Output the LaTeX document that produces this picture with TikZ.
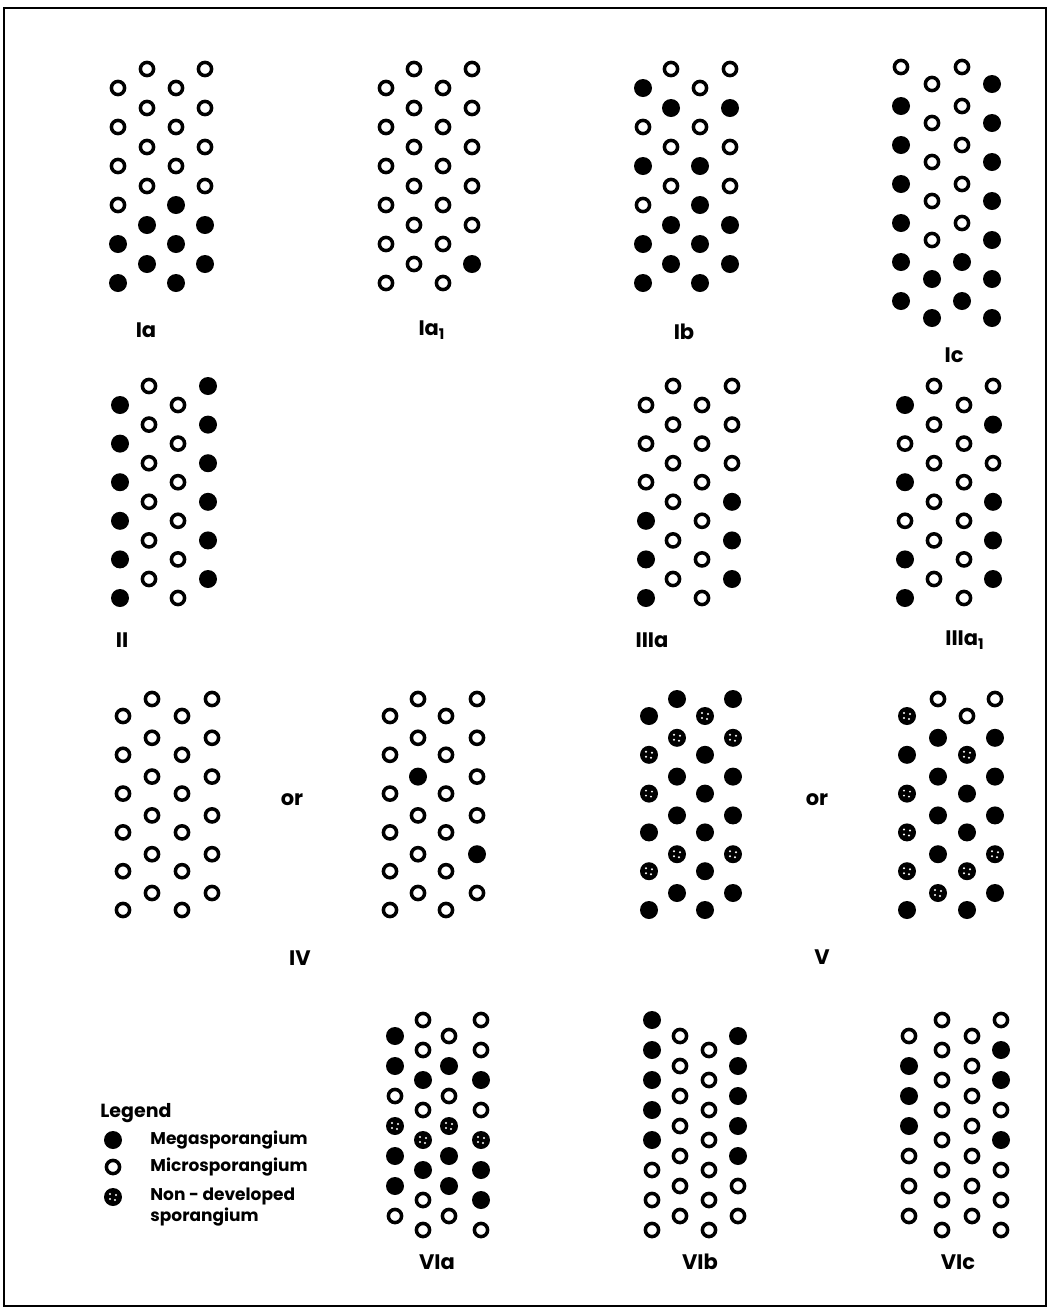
\documentclass[tikz,border=0pt]{standalone}
\usepackage{fontspec}
\setmainfont{Poppins}
\usetikzlibrary{positioning}

% one column of sporangia: x, first y, spacing, codes (0 micro, 1 mega, 2 non-developed)
\newcommand\sporcol[4]{%
  \foreach \t [count=\i from 0] in {#4}{%
    \ifcase\t\relax
      \draw[micro] (#1,#2+\i*#3) circle (6.6);
    \or
      \fill[mega] (#1,#2+\i*#3) circle (9);
    \or
      \fill[mega] (#1,#2+\i*#3) circle (9);
      \foreach \sx/\sy in {-3/-3,3/-2,2/3,-3/2}
        \fill[speck] (#1+\sx,#2+\i*#3+\sy) circle (1.1);
    \fi}}

\begin{document}
\begin{tikzpicture}[
  x=0.5pt, y=-0.5pt,
  micro/.style={draw=black, line width=1.75pt, fill=white},
  mega/.style={fill=black},
  speck/.style={fill=white},
  frame/.style={draw=black, line width=1pt},
  lab/.style={font=\fontsize{10.5}{12}\selectfont\bfseries, inner sep=1pt},
  legtxt/.style={font=\fontsize{8.5}{10.5}\selectfont\bfseries, anchor=west, align=left, inner sep=1pt}
]
\useasboundingbox (0,0) rectangle (1057,1314);
\draw[frame] (4,8) rectangle (1046,1306);

% row I
\sporcol{118}{88}{39}{0,0,0,0,1,1}
\sporcol{147}{69}{39}{0,0,0,0,1,1}
\sporcol{176}{88}{39}{0,0,0,1,1,1}
\sporcol{205}{69}{39}{0,0,0,0,1,1}
\node[lab] (labIa) at (146,330) {Ia};

\sporcol{386}{88}{39}{0,0,0,0,0,0}
\sporcol{414}{69}{39}{0,0,0,0,0,0}
\sporcol{443}{88}{39}{0,0,0,0,0,0}
\sporcol{472}{69}{39}{0,0,0,0,0,1}
\node[lab] (labIaone) at (432,330) {Ia\textsubscript{1}};

\sporcol{643}{88}{39}{1,0,1,0,1,1}
\sporcol{671}{69}{39}{0,1,0,0,1,1}
\sporcol{700}{88}{39}{0,0,1,1,1,1}
\sporcol{730}{69}{39}{0,1,0,0,1,1}
\node[lab] (labIb) at (684,332) {Ib};

\sporcol{901}{67}{39}{0,1,1,1,1,1,1}
\sporcol{932}{84}{39}{0,0,0,0,0,1,1}
\sporcol{962}{67}{39}{0,0,0,0,0,1,1}
\sporcol{992}{84}{39}{1,1,1,1,1,1,1}
\node[lab] (labIc) at (954,355) {Ic};

% row II, III
\sporcol{120}{405}{38.6}{1,1,1,1,1,1}
\sporcol{149}{386}{38.6}{0,0,0,0,0,0}
\sporcol{178}{405}{38.6}{0,0,0,0,0,0}
\sporcol{208}{386}{38.6}{1,1,1,1,1,1}
\node[lab] (labII) at (122,640) {II};

\sporcol{646}{405}{38.6}{0,0,0,1,1,1}
\sporcol{673}{386}{38.6}{0,0,0,0,0,0}
\sporcol{702}{405}{38.6}{0,0,0,0,0,0}
\sporcol{732}{386}{38.6}{0,0,0,1,1,1}
\node[lab] (labIIIa) at (652,640) {IIIa};

\sporcol{905}{405}{38.6}{1,0,1,0,1,1}
\sporcol{934}{386}{38.6}{0,0,0,0,0,0}
\sporcol{964}{405}{38.6}{0,0,0,0,0,0}
\sporcol{993}{386}{38.6}{0,1,0,1,1,1}
\node[lab] (labIIIaone) at (965,640) {IIIa\textsubscript{1}};

% row IV, V
\sporcol{123}{716}{38.8}{0,0,0,0,0,0}
\sporcol{152}{699}{38.8}{0,0,0,0,0,0}
\sporcol{182}{716}{38.8}{0,0,0,0,0,0}
\sporcol{212}{699}{38.8}{0,0,0,0,0,0}
\node[lab] (orIV) at (292,800) {or};

\sporcol{390}{716}{38.8}{0,0,0,0,0,0}
\sporcol{418}{699}{38.8}{0,0,1,0,0,0}
\sporcol{446}{716}{38.8}{0,0,0,0,0,0}
\sporcol{477}{699}{38.8}{0,0,0,0,1,0}
\node[lab] (labIV) at (300,958) {IV};

\sporcol{649}{716}{38.8}{1,2,2,1,2,1}
\sporcol{677}{699}{38.8}{1,2,1,1,2,1}
\sporcol{705}{716}{38.8}{2,1,1,1,1,1}
\sporcol{733}{699}{38.8}{1,2,1,1,2,1}
\node[lab] (orV) at (817,800) {or};

\sporcol{907}{716}{38.8}{2,1,2,2,2,1}
\sporcol{938}{699}{38.8}{0,1,1,1,1,2}
\sporcol{967}{716}{38.8}{0,2,1,1,2,1}
\sporcol{995}{699}{38.8}{0,1,1,1,2,1}
\node[lab] (labV) at (822,957) {V};

% row VI
\sporcol{395}{1036}{30}{1,1,0,2,1,1,0}
\sporcol{423}{1020}{30}{0,0,1,0,2,1,0,0}
\sporcol{449}{1036}{30}{0,1,0,2,1,1,0}
\sporcol{481}{1020}{30}{0,0,1,0,2,1,1,0}
\node[lab] (labVIa) at (437,1262) {VIa};

\sporcol{652}{1020}{30}{1,1,1,1,1,0,0,0}
\sporcol{680}{1036}{30}{0,0,0,0,0,0,0}
\sporcol{709}{1050}{30}{0,0,0,0,0,0,0}
\sporcol{738}{1036}{30}{1,1,1,1,1,0,0}
\node[lab] (labVIb) at (700,1262) {VIb};

\sporcol{909}{1036}{30}{0,1,1,1,0,0,0}
\sporcol{942}{1020}{30}{0,0,0,0,0,0,0,0}
\sporcol{972}{1036}{30}{0,0,0,0,0,0,0}
\sporcol{1001}{1020}{30}{0,1,1,0,1,0,0,0}
\node[lab] (labVIc) at (958,1262) {VIc};

% legend
\node[legtxt, font=\fontsize{9.5}{11}\selectfont\bfseries] (legend) at (98,1113) {Legend};
\sporcol{113}{1140}{0}{1}
\node[legtxt] (legmega) at (148,1140) {Megasporangium};
\sporcol{113}{1167}{0}{0}
\node[legtxt] (legmicro) at (148,1167) {Microsporangium};
\sporcol{113}{1197}{0}{2}
\node[legtxt] (legnon) at (148,1207) {Non - developed\\sporangium};

\end{tikzpicture}
\end{document}
